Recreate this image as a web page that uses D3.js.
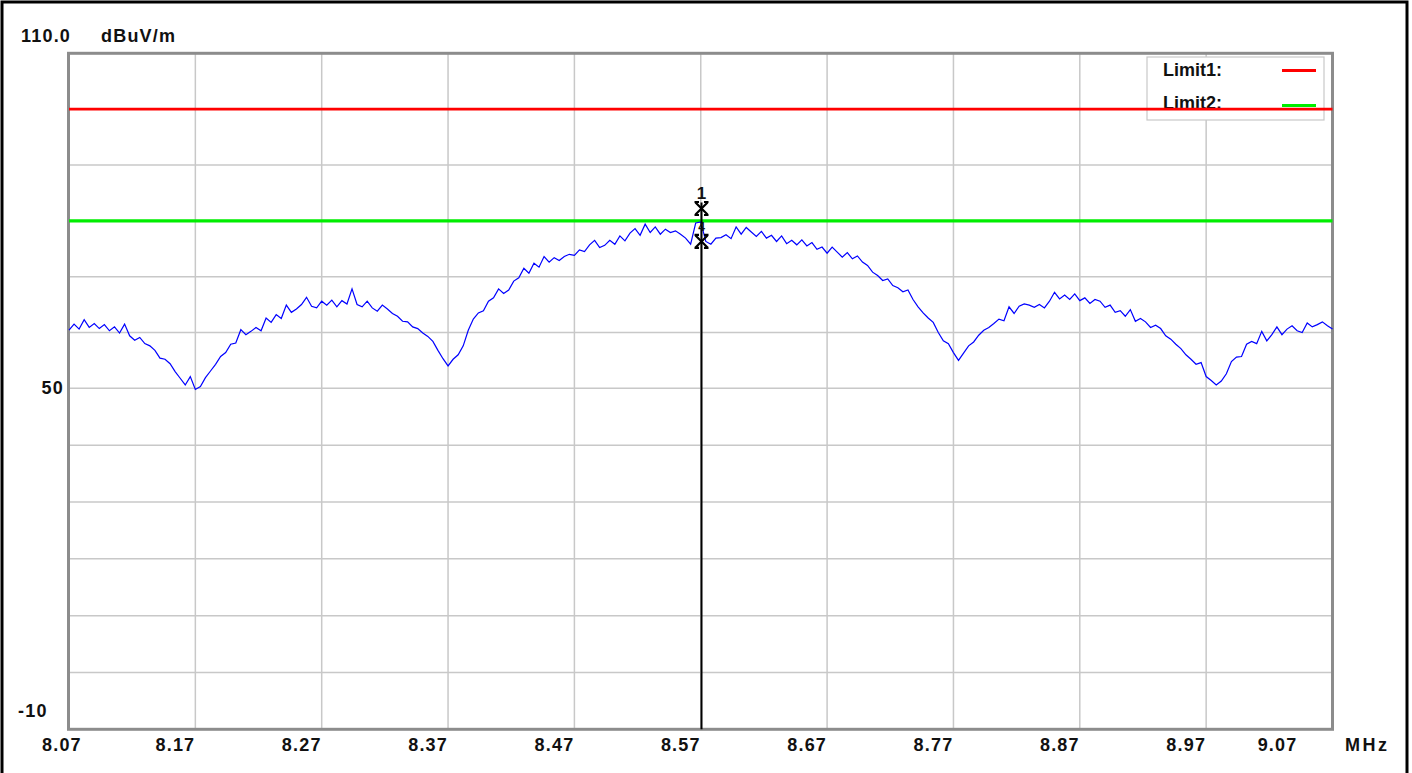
<!DOCTYPE html>
<html>
<head>
<meta charset="utf-8">
<script src="https://cdn.jsdelivr.net/npm/d3@7"></script>
<style>
  body { margin: 0; background: #fff; }
  svg text { font-family: "Liberation Sans", Arial, sans-serif; font-weight: bold; font-size: 18px; fill: #111; }
  svg text.num { letter-spacing: 1.2px; }
</style>
</head>
<body>
<svg id="chart" width="1412" height="773"></svg>
<script>
// sweep 8.07 .. 9.07 MHz, 0.004 MHz per point
var sweepStart = 8.07,
    sweepStep = 0.004;

// measured level, dBuV/m
var levels = [
  60.4, 61.5, 60.6, 62.3, 60.9, 61.6, 60.7, 61.4, 60.3, 61.0,
  59.9, 61.5, 59.4, 58.6, 59.1, 58.0, 57.6, 56.8, 55.4, 55.2,
  54.4, 53.0, 51.8, 50.6, 52.1, 49.8, 50.3, 51.9, 53.1, 54.3,
  55.7, 56.4, 57.9, 58.1, 60.5, 59.6, 60.2, 60.9, 60.3, 62.6,
  61.8, 63.2, 62.5, 64.9, 63.6, 64.2, 65.0, 66.3, 64.7, 64.4,
  65.6, 64.9, 65.8, 64.6, 65.7, 65.1, 67.8, 65.0, 64.6, 65.6,
  64.4, 63.8, 64.9, 64.2, 63.4, 62.9, 62.0, 61.9, 61.0, 60.7,
  59.9, 59.3, 58.4, 56.8, 55.3, 54.0, 55.2, 56.0, 57.6, 60.4,
  62.4, 63.5, 63.9, 65.6, 66.2, 67.8, 67.0, 67.6, 69.2, 69.8,
  71.5, 70.6, 72.4, 71.7, 73.6, 72.6, 73.4, 72.9, 73.6, 74.0,
  73.8, 74.8, 74.5, 75.7, 76.5, 75.2, 75.6, 76.5, 75.8, 77.3,
  76.4, 77.8, 78.6, 77.4, 79.4, 77.9, 78.9, 77.6, 78.5, 77.9,
  78.2, 77.6, 76.9, 75.8, 79.6, 79.8, 76.3, 75.8, 76.9, 77.0,
  77.5, 76.8, 78.9, 77.6, 78.8, 78.0, 77.2, 78.1, 76.9, 77.4,
  76.3, 77.3, 75.9, 76.5, 75.7, 76.6, 75.5, 76.1, 74.9, 75.3,
  74.2, 75.3, 74.4, 73.5, 74.3, 73.2, 73.7, 72.6, 72.0, 70.8,
  70.2, 69.3, 69.6, 68.4, 68.0, 67.3, 67.6, 65.9, 64.6, 63.5,
  62.6, 61.8, 60.0, 58.5, 58.0, 56.4, 55.0, 56.3, 57.6, 58.3,
  59.5, 60.4, 60.9, 61.6, 62.4, 62.1, 64.6, 63.4, 64.7, 65.1,
  64.9, 64.5, 65.0, 64.4, 65.6, 67.2, 66.0, 66.7, 65.9, 66.9,
  65.7, 66.2, 65.2, 65.9, 65.6, 64.5, 64.9, 63.6, 63.9, 62.9,
  64.1, 62.0, 62.5, 61.9, 60.9, 61.3, 60.7, 59.4, 58.8, 57.9,
  57.1, 56.0, 55.2, 54.3, 54.6, 52.1, 51.4, 50.6, 51.3, 52.6,
  54.8, 55.6, 55.7, 57.9, 58.4, 58.0, 60.2, 58.5, 59.6, 61.0,
  59.6, 60.6, 61.2, 60.3, 60.0, 61.7, 61.0, 61.4, 61.9, 61.2,
  60.6
];

var limitNames = ["Limit1:", "Limit2:"],
    limitValues = [100, 80],
    limitColors = ["#ff0000", "#00ee00"];

var xTicks = [8.07, 8.17, 8.27, 8.37, 8.47, 8.57, 8.67, 8.77, 8.87, 8.97, 9.07],
    yTicks = [110, 100, 90, 80, 70, 60, 50, 40, 30, 20, 10, 0, -10];

var markerFreq = 8.5706,
    markerLevels = [82.2, 76.3],
    markerNames = ["1", "4"];

var svg = d3.select("#chart");

var x = d3.scaleLinear().domain([8.07, 9.07]).range([69, 1332.5]),
    y = d3.scaleLinear().domain([110, 50, -10]).range([53.3, 388.3, 729.3]);

var trace = levels.map(function(v, i) { return { f: sweepStart + i * sweepStep, v: v }; });

// outer frame
svg.append("rect")
   .attr("x", 2).attr("y", 2)
   .attr("width", 1405).attr("height", 790)
   .attr("fill", "none").attr("stroke", "#000").attr("stroke-width", 3);

// grid
svg.append("g").selectAll("line").data(xTicks.slice(1, -1)).enter().append("line")
   .attr("x1", function(d) { return x(d); }).attr("x2", function(d) { return x(d); })
   .attr("y1", y(110)).attr("y2", y(-10))
   .attr("stroke", "#c8c8c8").attr("stroke-width", 1.5);
svg.append("g").selectAll("line").data(yTicks.slice(1, -1)).enter().append("line")
   .attr("x1", x(8.07)).attr("x2", x(9.07))
   .attr("y1", function(d) { return y(d); }).attr("y2", function(d) { return y(d); })
   .attr("stroke", "#c8c8c8").attr("stroke-width", 1.5);

// legend box, sits under the limit lines
var lg = svg.append("g");
lg.append("rect")
  .attr("x", 1147).attr("y", 57).attr("width", 177).attr("height", 63)
  .attr("fill", "#fff").attr("stroke", "#c8c8c8").attr("stroke-width", 1.2);
lg.selectAll("text").data(limitNames).enter().append("text")
  .attr("x", 1163).attr("y", function(d, i) { return 76 + i * 33; })
  .text(function(d) { return d; });
lg.selectAll("line").data(limitColors).enter().append("line")
  .attr("x1", 1282).attr("x2", 1316)
  .attr("y1", function(d, i) { return 70.5 + i * 35; })
  .attr("y2", function(d, i) { return 70.5 + i * 35; })
  .attr("stroke", function(d) { return d; }).attr("stroke-width", 3.2);

// plot frame
svg.append("rect")
   .attr("x", x(8.07) - 0.5).attr("y", y(110))
   .attr("width", x(9.07) - x(8.07) + 0.5).attr("height", y(-10) - y(110))
   .attr("fill", "none").attr("stroke", "#8c8c8c").attr("stroke-width", 3);

// limit lines
svg.append("g").selectAll("line").data(limitValues).enter().append("line")
   .attr("x1", x(8.07)).attr("x2", x(9.07))
   .attr("y1", function(d) { return y(d); }).attr("y2", function(d) { return y(d); })
   .attr("stroke", function(d, i) { return limitColors[i]; })
   .attr("stroke-width", function(d, i) { return i ? 3.3 : 2.6; });

// measured trace
var line = d3.line()
    .x(function(d) { return x(d.f); })
    .y(function(d) { return y(d.v); });
svg.append("path")
   .datum(trace)
   .attr("d", line)
   .attr("fill", "none").attr("stroke", "#0000ff").attr("stroke-width", 1.2);

// marker
var mx = x(markerFreq);
svg.append("line")
   .attr("x1", mx).attr("x2", mx)
   .attr("y1", y(markerLevels[0]) - 6).attr("y2", y(-10))
   .attr("stroke", "#000").attr("stroke-width", 2);
var cross = "M-6,-6L6,6M6,-6L-6,6M-7,-6.5L-2.5,-6.5M2.5,-6.5L7,-6.5M-7,6.5L-2.5,6.5M2.5,6.5L7,6.5";
svg.selectAll(".mk").data(markerLevels).enter().append("path")
   .attr("class", "mk")
   .attr("transform", function(d) { return "translate(" + mx + "," + y(d) + ")"; })
   .attr("d", cross)
   .attr("fill", "none").attr("stroke", "#000").attr("stroke-width", 2.2);
svg.selectAll(".mkl").data(markerNames).enter().append("text")
   .attr("class", "mkl")
   .attr("x", mx)
   .attr("y", function(d, i) { return y(markerLevels[i]) - 10; })
   .attr("text-anchor", "middle")
   .style("font-size", function(d, i) { return i ? "12px" : "17px"; })
   .text(function(d) { return d; });

// axis labels
svg.append("text").attr("class", "num").attr("x", 21).attr("y", 42).text("110.0");
svg.append("text").attr("class", "num").attr("x", 101).attr("y", 42).text("dBuV/m");
svg.append("text").attr("class", "num").attr("x", 64).attr("y", y(50) + 6).attr("text-anchor", "end").text("50");
svg.append("text").attr("class", "num").attr("x", 18).attr("y", y(-10) - 12).text("-10");

svg.selectAll(".xl").data(xTicks).enter().append("text")
   .attr("class", "xl num")
   .attr("y", 751)
   .attr("x", function(d, i) {
     if (i === 0) return x(d) - 27;
     if (i === xTicks.length - 1) return x(d) - 35;
     return x(d);
   })
   .attr("text-anchor", function(d, i) { return i === 0 ? "start" : "end"; })
   .text(function(d) { return d.toFixed(2); });
svg.append("text").attr("class", "num").attr("x", 1345).attr("y", 751).style("letter-spacing", "2.5px").text("MHz");
</script>
</body>
</html>
